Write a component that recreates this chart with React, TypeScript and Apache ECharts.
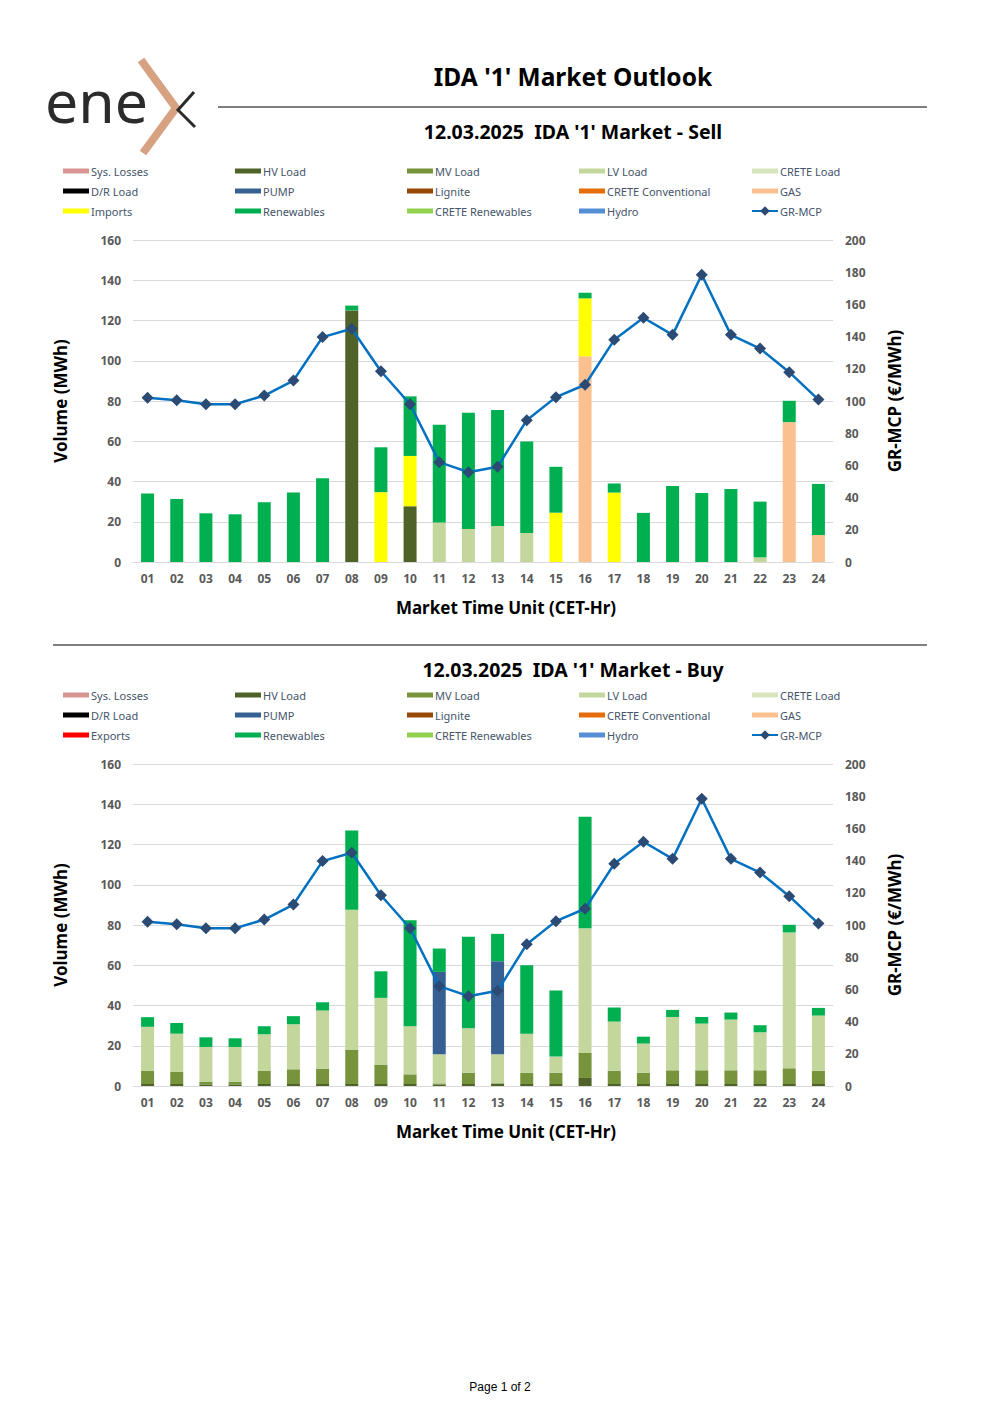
import React, { useEffect, useRef } from "react";
import * as echarts from "echarts";

const hours = ["01","02","03","04","05","06","07","08","09","10","11","12","13","14","15","16","17","18","19","20","21","22","23","24"];
const volTicks = [0, 160, 20];
const mcpTicks = [0, 200, 20];

// Sell market (MWh)
const sellHV = [0,0,0,0,0,0,0,125,0,27.7,0,0,0,0,0,0,0,0,0,0,0,0,0,0];
const sellLV = [0,0,0,0,0,0,0,0,0,0,19.6,16.4,17.9,14.4,0,0,0,0,0,0,0,2.3,0,0];
const sellGAS = [0,0,0,0,0,0,0,0,0,0,0,0,0,0,0,102.2,0,0,0,0,0,0,69.5,13.4];
const sellImports = [0,0,0,0,0,0,0,0,34.7,25,0,0,0,0,24.5,28.8,34.5,0,0,0,0,0,0,0];
const sellRen = [34,31.3,24.2,23.7,29.7,34.5,41.6,2.4,22.3,29.6,48.6,57.7,57.6,45.5,22.8,2.8,4.5,24.4,37.8,34.3,36.3,27.7,10.6,25.4];

// Buy market (MWh)
const buyHV = [1,1,0.8,0.8,1,1,1,1,1,1,0.8,1,1.3,1,1,4,1,1,1,1,1,1,1,1];
const buyMV = [6.5,6,1.2,1.4,6.5,7.3,7.5,16.9,9.6,4.8,0.5,5.6,0,5.6,5.5,12.4,6.6,5.6,6.8,6.8,6.8,6.8,7.8,6.6];
const buyLV = [21.9,19,17.4,17.2,18.2,22.4,29,69.7,33.2,23.9,14.5,22.1,14.5,19.4,8.1,62,24.4,14.5,26.5,23.2,25.2,18.9,67.5,27.4];
const buyPUMP = [0,0,0,0,0,0,0,0,0,0,40.9,0,46.2,0,0,0,0,0,0,0,0,0,0,0];
const buyRen = [4.8,5.3,4.8,4.3,4.0,4.0,4.1,39.4,13.2,52.6,11.6,45.4,13.6,34,32.8,55.4,7.0,3.4,3.5,3.3,3.5,3.5,3.8,3.8];

// GR-MCP (EUR/MWh)
const mcp = [102.0,100.5,98.0,98.0,103.4,112.7,139.7,144.9,118.5,98.0,62.0,55.8,59.1,88.1,102.4,110.1,138.0,151.7,141.1,178.4,141.1,132.6,117.9,100.9];

const COLORS: Record<string, string> = {
  "Sys. Losses": "#D99594",
  "HV Load": "#4F6228",
  "MV Load": "#77933C",
  "LV Load": "#C3D69B",
  "CRETE Load": "#D7E4BD",
  "D/R Load": "#000000",
  "PUMP": "#376092",
  "Lignite": "#984807",
  "CRETE Conventional": "#E46C0A",
  "GAS": "#FAC090",
  "Imports": "#FFFF00",
  "Exports": "#FF0000",
  "Renewables": "#00B050",
  "CRETE Renewables": "#92D050",
  "Hydro": "#558ED5",
};

const FONT = "Noto Sans";
const RECT_ICON = "path://M0,0h26v5h-26z";

function buildChartSeries(gi: number, parts: [string, number[]][]) {
  const s: any[] = parts.map(([name, data]) => ({
    type: "bar",
    name,
    data,
    xAxisIndex: gi,
    yAxisIndex: gi * 2,
    stack: "vol" + gi,
    barWidth: 13,
    itemStyle: { color: COLORS[name] },
    emphasis: { disabled: true },
  }));
  s.push({
    type: "line",
    name: "GR-MCP",
    data: mcp,
    xAxisIndex: gi,
    yAxisIndex: gi * 2 + 1,
    symbol: "diamond",
    symbolSize: 12,
    lineStyle: { color: "#0070C0", width: 2.5 },
    itemStyle: { color: "#2B4A74" },
    emphasis: { disabled: true },
    z: 5,
  });
  return s;
}

function legends(top: number, third: string) {
  const cols = [
    ["Sys. Losses", "D/R Load", third],
    ["HV Load", "PUMP", "Renewables"],
    ["MV Load", "Lignite", "CRETE Renewables"],
    ["LV Load", "CRETE Conventional", "Hydro"],
    ["CRETE Load", "GAS", "GR-MCP"],
  ];
  const lefts = [63, 235, 407, 579, 751];
  return cols.map((names, i) => ({
    orient: "vertical",
    left: lefts[i],
    top,
    padding: 0,
    itemGap: 6,
    itemWidth: 26,
    itemHeight: 12,
    selectedMode: false,
    textStyle: { fontFamily: FONT, fontSize: 11, color: "#44546A", lineHeight: 14, padding: [0, 0, 0, -3] },
    data: names.map((n) => (n === "GR-MCP" ? { name: n } : { name: n, icon: RECT_ICON })),
  }));
}

function axesFor(gi: number) {
  const xAxis = {
    type: "category",
    gridIndex: gi,
    data: hours,
    axisLine: { lineStyle: { color: "#D9D9D9" } },
    axisTick: { show: false },
    axisLabel: { fontFamily: FONT, fontSize: 12, fontWeight: "bold", color: "#595959", margin: 10 },
    name: "Market Time Unit (CET-Hr)",
    nameLocation: "middle",
    nameGap: 37,
    nameTextStyle: { fontFamily: FONT, fontSize: 17, fontWeight: "bold", color: "#000", padding: [0, 0, 0, 46] },
  };
  const yLeft = {
    type: "value",
    gridIndex: gi,
    min: volTicks[0],
    max: volTicks[1],
    interval: volTicks[2],
    axisLine: { show: false },
    axisTick: { show: false },
    splitLine: { lineStyle: { color: "#D9D9D9" } },
    axisLabel: { fontFamily: FONT, fontSize: 12, fontWeight: "bold", color: "#595959", margin: 12 },
    name: "Volume (MWh)",
    nameLocation: "middle",
    nameGap: 64,
    nameTextStyle: { fontFamily: FONT, fontSize: 17, fontWeight: "bold", color: "#000" },
  };
  const yRight = {
    type: "value",
    gridIndex: gi,
    position: "right",
    min: mcpTicks[0],
    max: mcpTicks[1],
    interval: mcpTicks[2],
    axisLine: { show: false },
    axisTick: { show: false },
    splitLine: { show: false },
    axisLabel: { fontFamily: FONT, fontSize: 12, fontWeight: "bold", color: "#595959", margin: 12 },
    name: "GR-MCP (€/MWh)",
    nameLocation: "middle",
    nameGap: 53,
    nameRotate: 90,
    nameTextStyle: { fontFamily: FONT, fontSize: 17, fontWeight: "bold", color: "#000" },
  };
  return { xAxis, yLeft, yRight };
}

export default function App() {
  const ref = useRef<HTMLDivElement>(null);
  useEffect(() => {
    if (!ref.current) return;
    const chart = echarts.init(ref.current, undefined, { renderer: "svg" });
    const a0 = axesFor(0);
    const a1 = axesFor(1);
    const series = [
      ...buildChartSeries(0, [
        ["Sys. Losses", []],
        ["HV Load", sellHV],
        ["MV Load", []],
        ["LV Load", sellLV],
        ["CRETE Load", []],
        ["D/R Load", []],
        ["PUMP", []],
        ["Lignite", []],
        ["CRETE Conventional", []],
        ["GAS", sellGAS],
        ["Imports", sellImports],
        ["Renewables", sellRen],
        ["CRETE Renewables", []],
        ["Hydro", []],
      ]),
      ...buildChartSeries(1, [
        ["Sys. Losses", []],
        ["HV Load", buyHV],
        ["MV Load", buyMV],
        ["LV Load", buyLV],
        ["CRETE Load", []],
        ["D/R Load", []],
        ["PUMP", buyPUMP],
        ["Lignite", []],
        ["CRETE Conventional", []],
        ["GAS", []],
        ["Exports", []],
        ["Renewables", buyRen],
        ["CRETE Renewables", []],
        ["Hydro", []],
      ]),
    ];
    const option: any = {
      animation: false,
      backgroundColor: "#ffffff",
      grid: [
        { left: 133, right: 167, top: 240, height: 322 },
        { left: 133, right: 167, top: 764, height: 322 },
      ],
      xAxis: [a0.xAxis, a1.xAxis],
      yAxis: [a0.yLeft, a0.yRight, a1.yLeft, a1.yRight],
      legend: [...legends(164, "Imports"), ...legends(688, "Exports")],
      series,
      graphic: [
        {
          type: "text",
          left: 45,
          top: 70,
          style: { text: "ene", fontFamily: FONT, fontSize: 59, fill: "#2B2B2B", fontWeight: "normal" },
        },
        {
          type: "polyline",
          shape: { points: [[141, 60], [176, 108], [143, 153]] },
          style: { stroke: "#D6A282", lineWidth: 8, fill: "none", lineJoin: "miter" },
        },
        {
          type: "polyline",
          shape: { points: [[194, 92], [178, 110], [195, 127]] },
          style: { stroke: "#2B2B2B", lineWidth: 3, fill: "none" },
        },
        {
          type: "text",
          x: 573,
          y: 76,
          style: { text: "IDA '1' Market Outlook", fontFamily: FONT, fontSize: 24.5, fontWeight: "bold", fill: "#000", align: "center", verticalAlign: "middle" },
        },
        { type: "line", shape: { x1: 218, y1: 107, x2: 927, y2: 107 }, style: { stroke: "#000", lineWidth: 1 } },
        {
          type: "text",
          x: 573,
          y: 131,
          style: { text: "12.03.2025  IDA '1' Market - Sell", fontFamily: FONT, fontSize: 19.5, fontWeight: "bold", fill: "#000", align: "center", verticalAlign: "middle" },
        },
        { type: "line", shape: { x1: 53, y1: 645, x2: 927, y2: 645 }, style: { stroke: "#000", lineWidth: 1 } },
        {
          type: "text",
          x: 573,
          y: 669,
          style: { text: "12.03.2025  IDA '1' Market - Buy", fontFamily: FONT, fontSize: 19.5, fontWeight: "bold", fill: "#000", align: "center", verticalAlign: "middle" },
        },
        {
          type: "text",
          x: 500,
          y: 1387,
          style: { text: "Page 1 of 2", fontFamily: "Liberation Sans", fontSize: 12, fill: "#000", align: "center", verticalAlign: "middle" },
        },
      ],
    };
    chart.setOption(option);
    return () => chart.dispose();
  }, []);
  return <div ref={ref} style={{ position: "absolute", left: 0, top: 0, width: 1000, height: 1415 }} />;
}
